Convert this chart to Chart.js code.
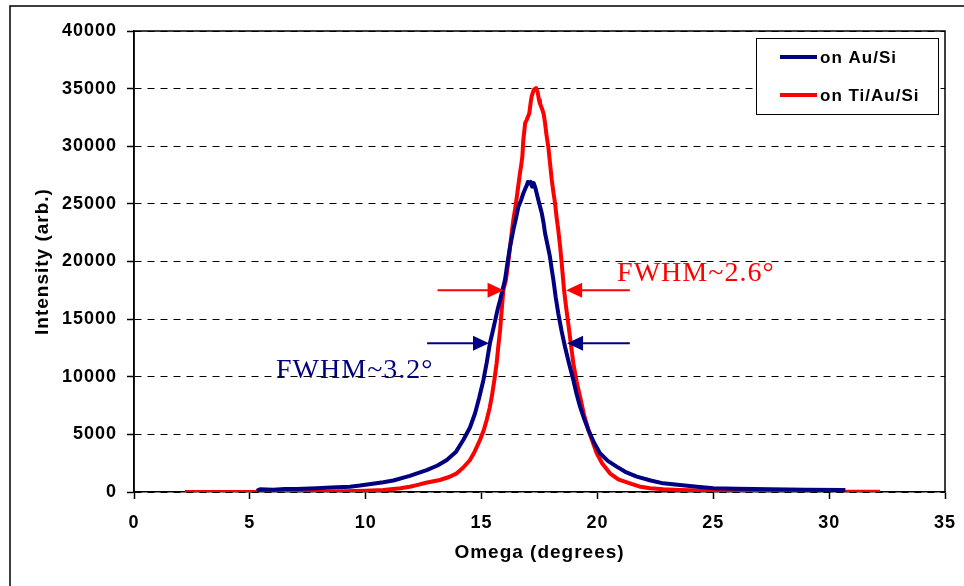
<!DOCTYPE html>
<html>
<head>
<meta charset="utf-8">
<script src="https://cdn.jsdelivr.net/npm/chart.js@4.4.1/dist/chart.umd.min.js"></script>
<style>
  html, body { margin: 0; padding: 0; background: #fff; }
</style>
</head>
<body>
<canvas id="omegaChart" width="964" height="586"></canvas>
<script>
// ----------------- Data -----------------
const auSiOmega = [5.3, 5.44, 6.0, 6.5, 7.0, 7.88, 8.5, 9.32, 9.75, 10.3, 10.76, 11.19, 11.9, 12.63, 13.1, 13.5, 13.9,
  14.21, 14.5, 14.72, 14.9, 15.08, 15.22, 15.36, 15.5, 15.6, 15.7, 15.8, 15.9, 16.01, 16.12, 16.23, 16.37, 16.48, 16.59,
  16.7, 16.8, 16.88, 16.95, 17.0, 17.06, 17.12, 17.18, 17.25, 17.32, 17.38, 17.48, 17.6, 17.68, 17.74, 17.85, 17.95,
  18.03, 18.1, 18.2, 18.31, 18.45, 18.6, 18.78, 18.96, 19.1, 19.25, 19.42, 19.61, 19.85, 20.11, 20.45, 20.83, 21.2,
  21.7, 22.3, 22.84, 23.56, 24.3, 25.0, 26.0, 27.45, 29.0, 30.7];
const auSiIntensity = [100, 230, 200, 250, 260, 320, 380, 460, 560, 720, 850, 1000, 1400, 1900, 2300, 2780, 3500,
  4510, 5600, 6830, 8200, 9720, 11200, 12900, 14100, 15000, 15900, 16660, 17500, 18400, 19900, 21290, 22730, 23700, 24760,
  25300, 25900, 26300, 26600, 26900, 26780, 26900, 26500, 26800, 26400, 25900, 25100, 24180, 23300, 22450, 21400, 20420,
  19300, 18400, 16900, 15500, 14000, 12600, 11100, 9720, 8500, 7400, 6400, 5380, 4300, 3360, 2700, 2200, 1750,
  1330, 1000, 750, 600, 450, 320, 280, 230, 200, 180];

const tiAuSiOmega = [2.2, 4.0, 6.0, 8.0, 9.0, 10.0, 10.76, 11.5, 11.9, 12.2, 12.6, 13.2, 13.6, 13.93, 14.2, 14.5, 14.7,
  14.93, 15.1, 15.22, 15.35, 15.44, 15.55, 15.65, 15.72, 15.8, 15.87, 15.94, 16.05, 16.15, 16.23, 16.3, 16.37, 16.45,
  16.52, 16.6, 16.66, 16.72, 16.76, 16.8, 16.88, 16.95, 17.06, 17.12, 17.16, 17.25, 17.35, 17.42, 17.48, 17.52, 17.6,
  17.68, 17.74, 17.8, 17.88, 17.95, 18.03, 18.1, 18.17, 18.24, 18.31, 18.39, 18.46, 18.56, 18.65, 18.74, 18.85, 18.96,
  19.1, 19.25, 19.42, 19.61, 19.8, 19.97, 20.2, 20.54, 20.9, 21.4, 21.8, 22.27, 22.84, 23.56, 24.5, 26.0, 28.0, 30.0, 32.2];
const tiAuSiIntensity = [0, 0, 10, 30, 60, 110, 170, 330, 460, 600, 800, 1040, 1300, 1620, 2100, 2780, 3500,
  4510, 5400, 6250, 7300, 8270, 9700, 11170, 12600, 14060, 15800, 17530, 18400, 19900, 21300, 22500, 23600, 24600,
  25600, 26800, 27700, 28500, 29100, 30500, 32000, 32300, 32860, 33800, 34300, 34900, 35050, 34700, 34000, 33700, 33300,
  32800, 32000, 31000, 29960, 28600, 27070, 26000, 25070, 23800, 22730, 21290, 19800, 17500, 16000, 14640, 12900, 11170,
  9600, 8270, 6700, 5380, 4300, 3360, 2500, 1620, 1100, 750, 480, 320, 230, 170, 120, 80, 50, 30, 20];

const seriesLabels = ['on Au/Si', 'on Ti/Au/Si'];
const xTickValues = [0, 5, 10, 15, 20, 25, 30, 35];
const yTickValues = [0, 5000, 10000, 15000, 20000, 25000, 30000, 35000, 40000];

// FWHM markers: [half-max level, left tail, left tip, right tip, right tail]
const fwhmTiAuSi = [17500, 13.1, 15.95, 18.65, 21.4];
const fwhmAuSi = [12900, 12.65, 15.32, 18.69, 21.4];
const fwhmLabels = ['FWHM~2.6°', 'FWHM~3.2°'];
const fwhmLabelAt = [[20.85, 18300], [6.13, 9890]];

const NAVY = '#000080';
const RED = '#ff0000';

const toPoints = (xs, ys) => xs.map((x, i) => ({ x, y: ys[i] }));

// ----------------- Plugins -----------------
const framePlugin = {
  id: 'frame',
  beforeDraw(chart) {
    const ctx = chart.ctx;
    // Excel-style text is a little wider than the canvas default
    ctx.letterSpacing = '1px';
    ctx.save();
    ctx.fillStyle = '#fff';
    ctx.fillRect(0, 0, chart.width, chart.height);
    ctx.strokeStyle = '#000';
    ctx.lineWidth = 1.5;
    ctx.strokeRect(10, 6, chart.width + 20, chart.height + 20);
    ctx.restore();
  },
  afterDraw(chart) {
    const { ctx, chartArea: a } = chart;
    ctx.save();
    ctx.strokeStyle = '#000';
    ctx.lineWidth = 1.5;
    ctx.beginPath();
    ctx.moveTo(a.left, a.bottom);
    ctx.lineTo(a.left, a.top);
    ctx.lineTo(a.right, a.top);
    ctx.lineTo(a.right, a.bottom);
    ctx.stroke();
    ctx.restore();
  }
};

function drawArrow(ctx, xTail, xTip, y, color) {
  const dir = Math.sign(xTip - xTail);
  ctx.strokeStyle = color;
  ctx.fillStyle = color;
  ctx.lineWidth = 2;
  ctx.beginPath();
  ctx.moveTo(xTail, y);
  ctx.lineTo(xTip - dir * 12, y);
  ctx.stroke();
  ctx.beginPath();
  ctx.moveTo(xTip, y);
  ctx.lineTo(xTip - dir * 16, y - 7.5);
  ctx.lineTo(xTip - dir * 16, y + 7.5);
  ctx.closePath();
  ctx.fill();
}

const fwhmPlugin = {
  id: 'fwhm',
  afterDatasetsDraw(chart) {
    const { ctx, scales: { x, y } } = chart;
    ctx.save();
    [[fwhmTiAuSi, RED], [fwhmAuSi, NAVY]].forEach(([m, color]) => {
      const py = y.getPixelForValue(m[0]);
      drawArrow(ctx, x.getPixelForValue(m[1]), x.getPixelForValue(m[2]), py, color);
      drawArrow(ctx, x.getPixelForValue(m[4]), x.getPixelForValue(m[3]), py, color);
    });
    ctx.font = '28px "Liberation Serif", "Times New Roman", serif';
    ctx.textAlign = 'left';
    ctx.textBaseline = 'alphabetic';
    [RED, NAVY].forEach((color, i) => {
      ctx.fillStyle = color;
      ctx.fillText(fwhmLabels[i], x.getPixelForValue(fwhmLabelAt[i][0]), y.getPixelForValue(fwhmLabelAt[i][1]));
    });
    ctx.restore();
  }
};

const legendBoxPlugin = {
  id: 'legendBox',
  afterDraw(chart) {
    const ctx = chart.ctx;
    const left = 756, top = 38, w = 182, h = 76;
    ctx.save();
    ctx.fillStyle = '#fff';
    ctx.fillRect(left, top, w, h);
    ctx.strokeStyle = '#000';
    ctx.lineWidth = 1;
    ctx.strokeRect(left + 0.5, top + 0.5, w, h);
    ctx.font = 'bold 17px "Liberation Sans", Arial, sans-serif';
    ctx.textBaseline = 'middle';
    chart.data.datasets.forEach((ds, i) => {
      const cy = top + 19 + i * 38;
      ctx.strokeStyle = ds.borderColor;
      ctx.lineWidth = 4;
      ctx.beginPath();
      ctx.moveTo(780, cy);
      ctx.lineTo(817, cy);
      ctx.stroke();
      ctx.fillStyle = '#000';
      ctx.fillText(ds.label, 820, cy + 1);
    });
    ctx.restore();
  }
};

// ----------------- Chart -----------------
const tickFont = { family: '"Liberation Sans", Arial, sans-serif', size: 18, weight: 'bold' };

new Chart(document.getElementById('omegaChart'), {
  type: 'line',
  data: {
    datasets: [
      { label: seriesLabels[0], data: toPoints(auSiOmega, auSiIntensity), borderColor: NAVY, borderWidth: 4 },
      { label: seriesLabels[1], data: toPoints(tiAuSiOmega, tiAuSiIntensity), borderColor: RED, borderWidth: 4 }
    ]
  },
  options: {
    responsive: false,
    animation: false,
    parsing: false,
    elements: { point: { radius: 0 }, line: { tension: 0, borderJoinStyle: 'round', fill: false } },
    layout: { padding: { top: 31, right: 19, left: 0, bottom: 0 } },
    plugins: { legend: { display: false }, tooltip: { enabled: false } },
    scales: {
      x: {
        type: 'linear',
        min: 0,
        max: 35,
        afterBuildTicks: s => { s.ticks = xTickValues.map(v => ({ value: v })); },
        afterFit: s => { s.height = 94; s.paddingLeft = 0; s.paddingRight = 0; },
        ticks: { color: '#000', font: tickFont, padding: 13, maxRotation: 0 },
        grid: { drawOnChartArea: false, drawTicks: true, tickLength: 7, tickColor: '#000', tickWidth: 1.5 },
        border: { display: true, color: '#000', width: 1.5 },
        title: {
          display: true, text: 'Omega (degrees)', color: '#000',
          font: { family: '"Liberation Sans", Arial, sans-serif', size: 19, weight: 'bold' },
          padding: { top: 0, bottom: 22 }
        }
      },
      y: {
        type: 'linear',
        min: 0,
        max: 40000,
        afterBuildTicks: s => { s.ticks = yTickValues.map(v => ({ value: v })); },
        afterFit: s => { s.width = 134; s.paddingTop = 0; s.paddingBottom = 0; },
        ticks: { color: '#000', font: tickFont, padding: 10, callback: v => String(v) },
        grid: { color: '#000', lineWidth: 1, drawTicks: true, tickLength: 7, tickColor: '#000', tickWidth: 1.5 },
        border: { display: true, color: '#000', width: 1.5, dash: [7, 6] },
        title: {
          display: true, text: 'Intensity (arb.)', color: '#000',
          font: { family: '"Liberation Sans", Arial, sans-serif', size: 19, weight: 'bold' },
          padding: { top: 31, bottom: 0 }
        }
      }
    }
  },
  plugins: [framePlugin, fwhmPlugin, legendBoxPlugin]
});
</script>
</body>
</html>
